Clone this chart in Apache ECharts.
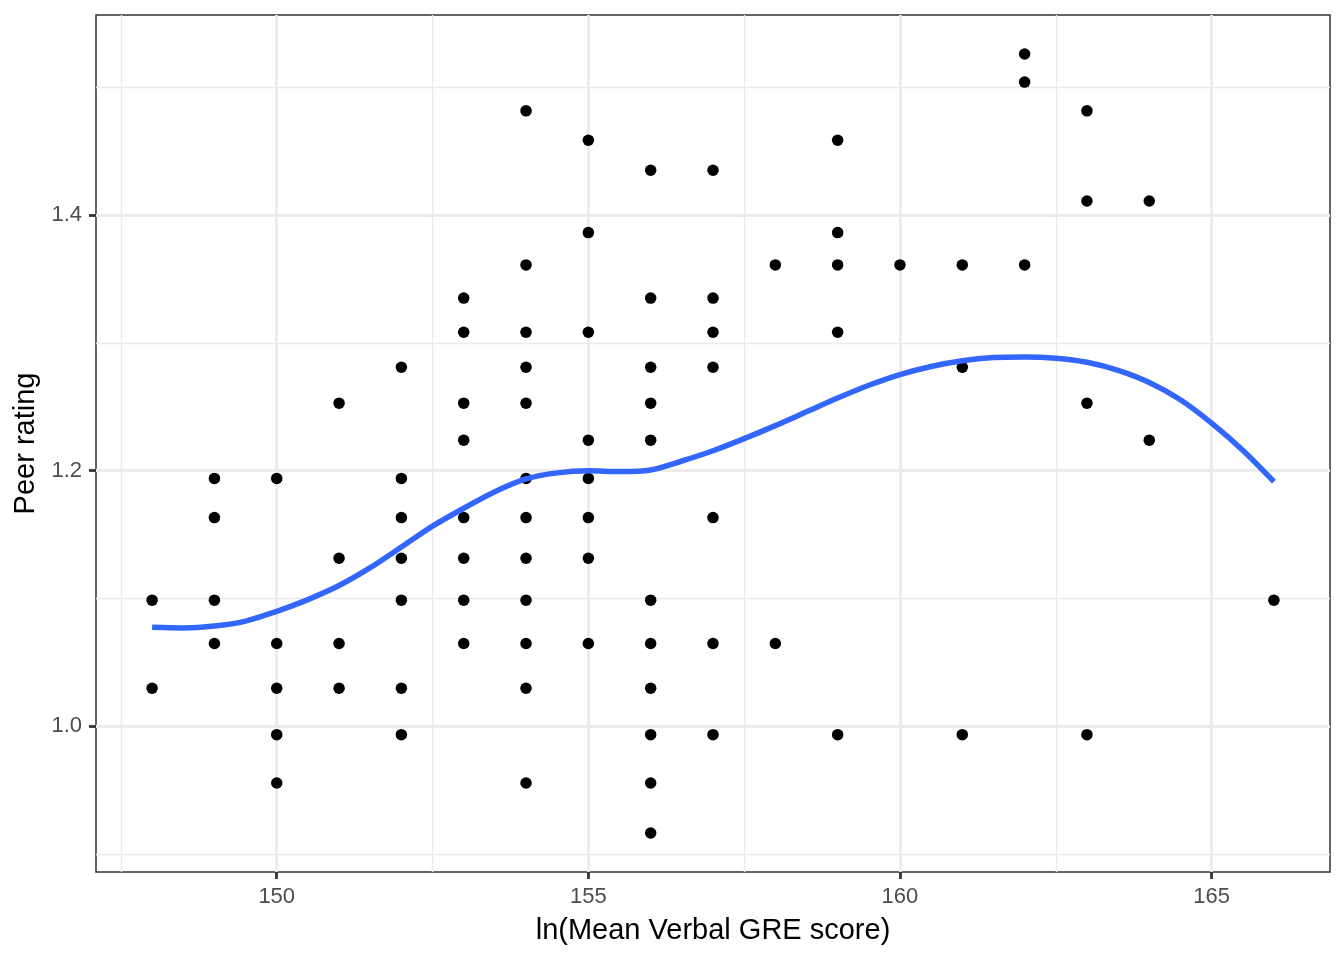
<!DOCTYPE html>
<html>
<head>
<meta charset="utf-8">
<script src="https://cdn.jsdelivr.net/npm/echarts@6/dist/echarts.min.js"></script>
<style>
html,body{margin:0;padding:0;background:#fff;}
#chart{width:1344px;height:960px;}
</style>
</head>
<body>
<div id="chart"></div>
<script>
// Scatter points: [verbal GRE, ln(peer rating)]
const gre = [
  148,148,
  149,149,149,149,
  150,150,150,150,150,
  151,151,151,151,
  152,152,152,152,152,152,152,
  153,153,153,153,153,153,153,153,
  154,154,154,154,154,154,154,154,154,154,154,154,
  155,155,155,155,155,155,155,155,
  156,156,156,156,156,156,156,156,156,156,156,
  157,157,157,157,157,157,157,
  158,158,
  159,159,159,159,159,
  160,
  161,161,161,
  162,162,162,
  163,163,163,163,
  164,164,
  166
];
const rating = [
  1.0986,1.0296,
  1.1939,1.1632,1.0986,1.0647,
  1.1939,1.0647,1.0296,0.9933,0.9555,
  1.2528,1.1314,1.0647,1.0296,
  1.2809,1.1939,1.1632,1.1314,1.0986,1.0296,0.9933,
  1.3350,1.3083,1.2528,1.2238,1.1632,1.1314,1.0986,1.0647,
  1.4816,1.3610,1.3083,1.2809,1.2528,1.1939,1.1632,1.1314,1.0986,1.0647,1.0296,0.9555,
  1.4586,1.3863,1.3083,1.2238,1.1939,1.1632,1.1314,1.0647,
  1.4351,1.3350,1.2809,1.2528,1.2238,1.0986,1.0647,1.0296,0.9933,0.9555,0.9163,
  1.4351,1.3350,1.3083,1.2809,1.1632,1.0647,0.9933,
  1.3610,1.0647,
  1.4586,1.3863,1.3610,1.3083,0.9933,
  1.3610,
  1.3610,1.2809,0.9933,
  1.5261,1.5041,1.3610,
  1.4816,1.4110,1.2528,0.9933,
  1.4110,1.2238,
  1.0986
];
// Loess smooth curve
const smoothX = [148,148.5,149,149.5,150,150.5,151,151.5,152,152.5,153,153.5,154,154.5,155,155.5,156,156.5,157,157.5,158,158.5,159,159.5,160,160.5,161,161.5,162,162.5,163,163.5,164,164.5,165,165.5,166];
const smoothY = [1.0773,1.0768,1.0783,1.0822,1.0898,1.0990,1.1100,1.1240,1.1402,1.1565,1.1705,1.1835,1.1935,1.1982,1.1998,1.1992,1.2005,1.2075,1.2155,1.2250,1.2352,1.2460,1.2568,1.2668,1.2752,1.2815,1.2860,1.2885,1.2890,1.2880,1.2848,1.2785,1.2690,1.2555,1.2372,1.2160,1.1914];

// Axis ticks and grid positions
const xTicks = [150,155,160,165];
const xMinor = [147.5,152.5,157.5,162.5];
const yTicks = [1.0,1.2,1.4];
const yMinor = [0.9,1.1,1.3,1.5];
const xRange = [147.1, 166.9];
const yRange = [0.8858, 1.5566];

const chart = echarts.init(document.getElementById('chart'));
const font = "'Liberation Sans', Arial, Helvetica, sans-serif";

const gridLines = [];
xMinor.forEach(v => gridLines.push({xAxis: v, lineStyle: {color:'#EBEBEB', width:1.4, type:'solid'}}));
yMinor.forEach(v => gridLines.push({yAxis: v, lineStyle: {color:'#EBEBEB', width:1.4, type:'solid'}}));
xTicks.forEach(v => gridLines.push({xAxis: v, lineStyle: {color:'#EBEBEB', width:2.8, type:'solid'}}));
yTicks.forEach(v => gridLines.push({yAxis: v, lineStyle: {color:'#EBEBEB', width:2.8, type:'solid'}}));

chart.setOption({
  animation: false,
  backgroundColor: '#fff',
  grid: {left: 96, top: 15, width: 1234, height: 857, show: true, borderColor: '#333333', borderWidth: 1.5, backgroundColor: 'transparent'},
  xAxis: {
    type: 'value', min: xRange[0], max: xRange[1],
    name: 'ln(Mean Verbal GRE score)', nameLocation: 'middle', nameGap: 44,
    nameTextStyle: {color: '#000', fontSize: 29, fontFamily: font},
    axisLine: {show: false},
    axisTick: {show: true, customValues: xTicks, length: 7, lineStyle: {color: '#333333', width: 2.8}},
    axisLabel: {customValues: xTicks, color: '#4D4D4D', fontSize: 22, fontFamily: font, margin: 14},
    splitLine: {show: false}
  },
  yAxis: {
    type: 'value', min: yRange[0], max: yRange[1],
    name: 'Peer rating', nameLocation: 'middle', nameGap: 55,
    nameTextStyle: {color: '#000', fontSize: 29, fontFamily: font},
    axisLine: {show: false},
    axisTick: {show: true, customValues: yTicks, length: 7, lineStyle: {color: '#333333', width: 2.8}},
    axisLabel: {customValues: yTicks, color: '#4D4D4D', fontSize: 22, fontFamily: font, margin: 14,
      formatter: v => v.toFixed(1)},
    splitLine: {show: false}
  },
  series: [
    {
      type: 'scatter', data: [], z: 1, silent: true,
      markLine: {z: 1, silent: true, symbol: ['none','none'], label: {show: false}, animation: false, data: gridLines}
    },
    {
      type: 'scatter', z: 3, symbol: 'circle', symbolSize: 11.5,
      itemStyle: {color: '#000', opacity: 1},
      data: gre.map((x, i) => [x, rating[i]])
    },
    {
      type: 'line', z: 4, smooth: 0.3, showSymbol: false, symbol: 'none',
      lineStyle: {color: '#3366FF', width: 5.5},
      data: smoothX.map((x, i) => [x, smoothY[i]])
    }
  ]
});
</script>
</body>
</html>
